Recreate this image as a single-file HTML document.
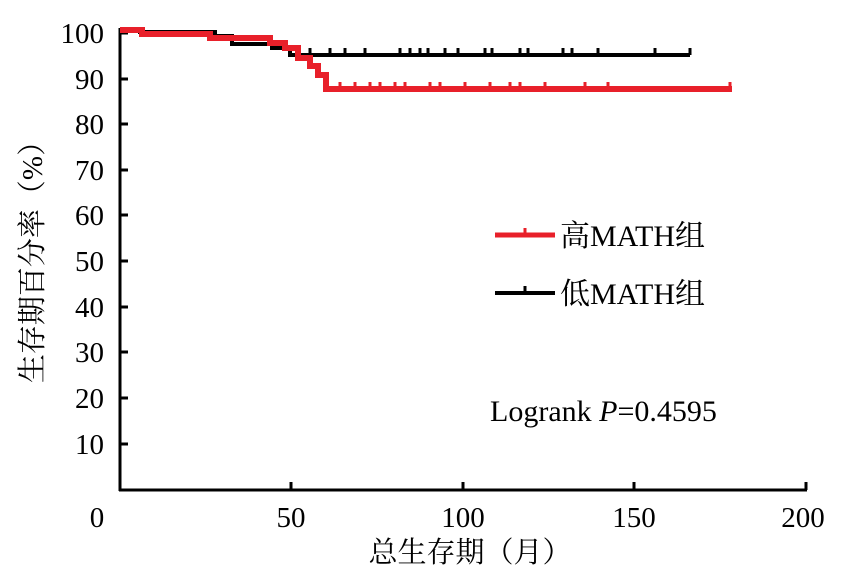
<!DOCTYPE html>
<html><head><meta charset="utf-8"><style>
html,body{margin:0;padding:0;background:#fff;}
svg text{font-family:"Liberation Serif","Noto Serif CJK SC",serif;fill:#000;}
</style></head><body>
<svg width="850" height="574" viewBox="0 0 850 574" xmlns="http://www.w3.org/2000/svg">
<line x1="120" y1="28" x2="120" y2="491" stroke="#000" stroke-width="3"/>
<line x1="119" y1="490" x2="807" y2="490" stroke="#000" stroke-width="3"/>
<g stroke="#000" stroke-width="3">
<line x1="120" y1="33" x2="128" y2="33"/><line x1="120" y1="79" x2="128" y2="79"/>
<line x1="120" y1="124" x2="128" y2="124"/><line x1="120" y1="170" x2="128" y2="170"/>
<line x1="120" y1="215" x2="128" y2="215"/><line x1="120" y1="261" x2="128" y2="261"/>
<line x1="120" y1="307" x2="128" y2="307"/><line x1="120" y1="352" x2="128" y2="352"/>
<line x1="120" y1="398" x2="128" y2="398"/><line x1="120" y1="444" x2="128" y2="444"/>
<line x1="291" y1="490" x2="291" y2="482"/><line x1="463" y1="490" x2="463" y2="482"/>
<line x1="634" y1="490" x2="634" y2="482"/><line x1="806" y1="490" x2="806" y2="482"/>
</g>
<g font-size="29" text-anchor="end">
<text x="104" y="43">100</text><text x="104" y="89">90</text><text x="104" y="134">80</text>
<text x="104" y="180">70</text><text x="104" y="225">60</text><text x="104" y="271">50</text>
<text x="104" y="317">40</text><text x="104" y="362">30</text><text x="104" y="408">20</text>
<text x="104" y="454">10</text>
</g>
<g font-size="29" text-anchor="middle">
<text x="97" y="527">0</text><text x="291" y="527">50</text><text x="463" y="527">100</text>
<text x="634" y="527">150</text><text x="803" y="527">200</text>
</g>
<text x="470" y="562" font-size="29" text-anchor="middle">总生存期（月）</text>
<text transform="translate(42,255) rotate(-90)" font-size="29" text-anchor="middle">生存期百分率（%）</text>
<path d="M120,30 H140 V32 H215 V36 H232 V44 H272 V48 H290 V55 H690" fill="none" stroke="#000" stroke-width="4"/>
<g stroke="#000" stroke-width="3">
<line x1="310" y1="55" x2="310" y2="48"/><line x1="330" y1="55" x2="330" y2="48"/><line x1="345" y1="55" x2="345" y2="48"/>
<line x1="365" y1="55" x2="365" y2="48"/><line x1="400" y1="55" x2="400" y2="48"/><line x1="410" y1="55" x2="410" y2="48"/>
<line x1="420" y1="55" x2="420" y2="48"/><line x1="428" y1="55" x2="428" y2="48"/><line x1="445" y1="55" x2="445" y2="48"/>
<line x1="458" y1="55" x2="458" y2="48"/><line x1="485" y1="55" x2="485" y2="48"/><line x1="492" y1="55" x2="492" y2="48"/>
<line x1="520" y1="55" x2="520" y2="48"/><line x1="528" y1="55" x2="528" y2="48"/><line x1="563" y1="55" x2="563" y2="48"/>
<line x1="572" y1="55" x2="572" y2="48"/><line x1="598" y1="55" x2="598" y2="48"/><line x1="655" y1="55" x2="655" y2="48"/>
<line x1="690" y1="55" x2="690" y2="48"/>
</g>
<path d="M120,30 H142 V34 H210 V38 H270 V43 H285 V48 H298 V58 H310 V66 H318 V75 H326 V89 H732" fill="none" stroke="#e8202a" stroke-width="6"/>
<g stroke="#e8202a" stroke-width="3">
<line x1="340" y1="89" x2="340" y2="82"/><line x1="355" y1="89" x2="355" y2="82"/><line x1="370" y1="89" x2="370" y2="82"/>
<line x1="380" y1="89" x2="380" y2="82"/><line x1="395" y1="89" x2="395" y2="82"/><line x1="405" y1="89" x2="405" y2="82"/>
<line x1="430" y1="89" x2="430" y2="82"/><line x1="440" y1="89" x2="440" y2="82"/><line x1="465" y1="89" x2="465" y2="82"/>
<line x1="490" y1="89" x2="490" y2="82"/><line x1="510" y1="89" x2="510" y2="82"/><line x1="520" y1="89" x2="520" y2="82"/>
<line x1="545" y1="89" x2="545" y2="82"/><line x1="585" y1="89" x2="585" y2="82"/><line x1="608" y1="89" x2="608" y2="82"/>
<line x1="730" y1="89" x2="730" y2="82"/>
</g>
<line x1="495" y1="235" x2="555" y2="235" stroke="#e8202a" stroke-width="5"/>
<line x1="525" y1="235" x2="525" y2="228" stroke="#e8202a" stroke-width="3"/>
<text x="560" y="246" font-size="30">高MATH组</text>
<line x1="495" y1="293" x2="555" y2="293" stroke="#000" stroke-width="4"/>
<line x1="525" y1="293" x2="525" y2="286" stroke="#000" stroke-width="3"/>
<text x="560" y="304" font-size="30">低MATH组</text>
<text x="490" y="421" font-size="30">Logrank <tspan font-style="italic">P</tspan>=0.4595</text>
</svg>
</body></html>
